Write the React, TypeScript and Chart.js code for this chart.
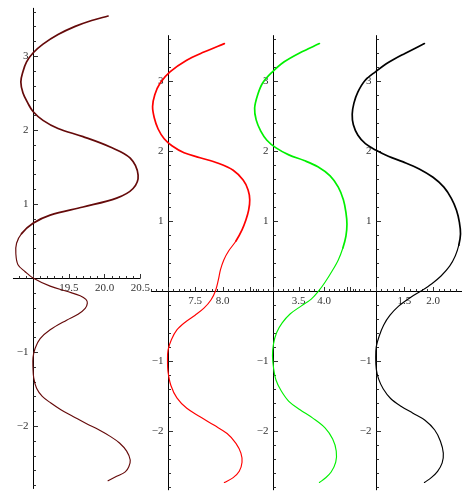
import React, { useEffect, useRef } from "react";
import { Chart, registerables } from "chart.js";

Chart.register(...registerables);

const W = 462;
const H = 493;

// ---- Panel 1 (dark red) : x as a function of y ----
const p1Y = [3.54, 3.48, 3.4, 3.29, 3.16, 3.04, 2.92, 2.79, 2.65, 2.5, 2.36, 2.25, 2.13, 2.02, 1.91, 1.77, 1.62, 1.39, 1.21, 1.08, 0.96, 0.85, 0.74, 0.6, 0.47, 0.33, 0.18, 0.085, 0.0, -0.11, -0.18, -0.24, -0.29, -0.34, -0.41, -0.49, -0.57, -0.7, -0.82, -0.95, -1.08, -1.22, -1.35, -1.49, -1.6, -1.69, -1.78, -1.87, -1.97, -2.05, -2.14, -2.23, -2.34, -2.46, -2.55, -2.62, -2.68, -2.74];
const p1X = [20.05, 19.82, 19.59, 19.35, 19.14, 19.0, 18.91, 18.86, 18.83, 18.86, 18.93, 19.0, 19.14, 19.35, 19.7, 20.08, 20.36, 20.47, 20.4, 20.17, 19.7, 19.24, 19.0, 18.84, 18.77, 18.76, 18.79, 18.89, 19.0, 19.24, 19.47, 19.66, 19.74, 19.76, 19.73, 19.63, 19.47, 19.24, 19.1, 19.03, 19.0, 19.0, 19.01, 19.05, 19.13, 19.25, 19.39, 19.56, 19.75, 19.92, 20.08, 20.21, 20.31, 20.36, 20.34, 20.29, 20.17, 20.05];

// ---- Panel 2 (red) ----
const p2Y = [3.53, 3.41, 3.29, 3.13, 2.97, 2.8, 2.63, 2.47, 2.31, 2.17, 2.07, 1.97, 1.9, 1.82, 1.72, 1.58, 1.44, 1.3, 1.15, 1.01, 0.87, 0.71, 0.57, 0.44, 0.3, 0.15, 0.0, -0.13, -0.25, -0.35, -0.45, -0.56, -0.7, -0.85, -0.99, -1.16, -1.35, -1.53, -1.68, -1.8, -1.92, -2.04, -2.18, -2.32, -2.45, -2.58, -2.67, -2.74];
const p2X = [8.03, 7.66, 7.34, 7.05, 6.87, 6.77, 6.73, 6.76, 6.83, 6.94, 7.08, 7.3, 7.59, 7.92, 8.19, 8.37, 8.46, 8.49, 8.47, 8.42, 8.35, 8.24, 8.11, 8.02, 7.96, 7.92, 7.87, 7.79, 7.66, 7.5, 7.32, 7.17, 7.07, 7.01, 7.0, 7.01, 7.06, 7.17, 7.35, 7.59, 7.84, 8.08, 8.24, 8.33, 8.35, 8.3, 8.19, 8.03];

// ---- Panel 3 (green) ----
const p3Y = [3.53, 3.4, 3.27, 3.12, 2.97, 2.8, 2.61, 2.44, 2.28, 2.15, 2.04, 1.94, 1.86, 1.77, 1.64, 1.48, 1.3, 1.12, 0.95, 0.78, 0.61, 0.44, 0.27, 0.12, 0.0, -0.12, -0.22, -0.33, -0.46, -0.6, -0.76, -0.93, -1.1, -1.28, -1.43, -1.58, -1.7, -1.82, -1.96, -2.12, -2.29, -2.45, -2.59, -2.68, -2.74];
const p3X = [3.91, 3.53, 3.22, 2.98, 2.8, 2.7, 2.64, 2.67, 2.76, 2.88, 3.06, 3.31, 3.61, 3.88, 4.12, 4.28, 4.38, 4.43, 4.45, 4.43, 4.37, 4.28, 4.15, 4.02, 3.9, 3.75, 3.55, 3.34, 3.18, 3.07, 3.01, 2.99, 3.01, 3.06, 3.16, 3.31, 3.53, 3.78, 4.02, 4.17, 4.24, 4.23, 4.14, 4.02, 3.91];

// ---- Panel 4 (black) ----
const p4Y = [3.53, 3.39, 3.26, 3.13, 3.0, 2.84, 2.68, 2.52, 2.37, 2.22, 2.1, 2.01, 1.92, 1.84, 1.74, 1.62, 1.48, 1.32, 1.15, 0.98, 0.81, 0.65, 0.5, 0.35, 0.21, 0.1, 0.0, -0.1, -0.22, -0.35, -0.49, -0.65, -0.8, -0.96, -1.12, -1.26, -1.4, -1.54, -1.65, -1.75, -1.85, -1.99, -2.15, -2.32, -2.46, -2.58, -2.67, -2.74];
const p4X = [1.85, 1.51, 1.22, 1.0, 0.81, 0.69, 0.62, 0.59, 0.61, 0.69, 0.82, 1.0, 1.22, 1.48, 1.76, 2.0, 2.19, 2.32, 2.41, 2.46, 2.48, 2.45, 2.39, 2.29, 2.14, 1.98, 1.8, 1.6, 1.4, 1.25, 1.14, 1.06, 1.01, 1.0, 1.01, 1.05, 1.13, 1.26, 1.44, 1.65, 1.86, 2.03, 2.13, 2.18, 2.16, 2.08, 1.97, 1.85];

// ---- Tick labels ----
const p1XTickValues = [19.5, 20.0, 20.5];
const p1XTickLabels = ["19.5", "20.0", "20.5"];
const p2XTickValues = [7.5, 8.0];
const p2XTickLabels = ["7.5", "8.0"];
const p3XTickValues = [3.5, 4.0];
const p3XTickLabels = ["3.5", "4.0"];
const p4XTickValues = [1.5, 2.0];
const p4XTickLabels = ["1.5", "2.0"];
const yTickValues = [-2, -1, 1, 2, 3];
const yTickLabels = ["\u22122", "\u22121", "1", "2", "3"];

const colors = ["#650a0a", "#ff0000", "#00f000", "#000000"];

// panel geometry (pixel placement of each panel's origin and scale)
const panels = [
  { xs: p1X, ys: p1Y, tv: p1XTickValues, tl: p1XTickLabels, xOrigin: 19, xPx: 33, kx: 71.5, yPx: 278, ky: 74, axMin: 18.72, axMax: 20.5, ayMin: -2.85, ayMax: 3.65 },
  { xs: p2X, ys: p2Y, tv: p2XTickValues, tl: p2XTickLabels, xOrigin: 7, xPx: 167.5, kx: 55.2, yPx: 290.7, ky: 70, axMin: 6.7, axMax: 8.62, ayMin: -2.85, ayMax: 3.65 },
  { xs: p3X, ys: p3Y, tv: p3XTickValues, tl: p3XTickLabels, xOrigin: 3, xPx: 273, kx: 51, yPx: 290.7, ky: 70, axMin: 2.55, axMax: 4.6, ayMin: -2.85, ayMax: 3.65 },
  { xs: p4X, ys: p4Y, tv: p4XTickValues, tl: p4XTickLabels, xOrigin: 1, xPx: 375.7, kx: 57.3, yPx: 290.7, ky: 70, axMin: 0.45, axMax: 2.6, ayMin: -2.85, ayMax: 3.65 },
];

const axesPlugin = {
  id: "mmaAxes",
  beforeDatasetsDraw(chart: any) {
    const ctx = chart.ctx;
    ctx.save();
    panels.forEach((p, i) => {
      const sx = chart.scales["x" + (i + 1)];
      const sy = chart.scales["y" + (i + 1)];
      const y0 = Math.round(sy.getPixelForValue(0)) + 0.5;
      const x0 = Math.round(sx.getPixelForValue(p.xOrigin)) + 0.5;
      ctx.strokeStyle = "#000";
      ctx.lineWidth = 1;
      ctx.beginPath();
      ctx.moveTo(sx.getPixelForValue(p.axMin), y0);
      ctx.lineTo(sx.getPixelForValue(p.axMax), y0);
      ctx.stroke();
      ctx.beginPath();
      ctx.moveTo(x0, sy.getPixelForValue(p.ayMax));
      ctx.lineTo(x0, sy.getPixelForValue(p.ayMin));
      ctx.stroke();
      ctx.strokeStyle = "#333";
      ctx.beginPath();
      for (let k = Math.ceil(p.axMin * 10 - 1e-6); k <= Math.floor(p.axMax * 10 + 1e-6); k++) {
        const px = Math.round(sx.getPixelForValue(k / 10)) + 0.5;
        const len = k % 5 === 0 ? 4.5 : 2.5;
        ctx.moveTo(px, y0);
        ctx.lineTo(px, y0 - len);
      }
      for (let k = Math.ceil(p.ayMin * 5 - 1e-6); k <= Math.floor(p.ayMax * 5 + 1e-6); k++) {
        if (k === 0) continue;
        const py = Math.round(sy.getPixelForValue(k / 5)) + 0.5;
        const len = k % 5 === 0 ? 4.5 : 2.5;
        ctx.moveTo(x0, py);
        ctx.lineTo(x0 + len, py);
      }
      ctx.stroke();
      ctx.fillStyle = "#333";
      ctx.font = '11px "Liberation Serif", "DejaVu Serif", serif';
      ctx.textAlign = "center";
      ctx.textBaseline = "top";
      p.tv.forEach((v, j) => {
        ctx.fillText(p.tl[j], sx.getPixelForValue(v), y0 + 4);
      });
      ctx.textAlign = "right";
      ctx.textBaseline = "middle";
      yTickValues.forEach((v, j) => {
        ctx.fillText(yTickLabels[j], x0 - 5, sy.getPixelForValue(v));
      });
    });
    ctx.restore();
  },
};

export default function App() {
  const ref = useRef<HTMLCanvasElement | null>(null);
  useEffect(() => {
    if (!ref.current) return;
    const scales: any = {};
    panels.forEach((p, i) => {
      scales["x" + (i + 1)] = {
        type: "linear",
        axis: "x",
        display: false,
        bounds: "data",
        min: p.xOrigin - p.xPx / p.kx,
        max: p.xOrigin + (W - p.xPx) / p.kx,
      };
      scales["y" + (i + 1)] = {
        type: "linear",
        axis: "y",
        display: false,
        bounds: "data",
        min: -(H - p.yPx) / p.ky,
        max: p.yPx / p.ky,
      };
    });
    const datasets = panels.map((p, i) => ({
      data: p.ys.map((y, j) => ({ x: p.xs[j], y })),
      xAxisID: "x" + (i + 1),
      yAxisID: "y" + (i + 1),
      showLine: true,
      borderColor: colors[i],
      borderWidth: 1.5,
      borderJoinStyle: "round",
      borderCapStyle: "round",
      pointRadius: 0,
      tension: 0.35,
      fill: false,
      clip: false as any,
      segment: {
        borderWidth: (c: any) => ((c.p0.parsed.y + c.p1.parsed.y) / 2 > 0.65 ? 1.7 : 1.15),
      },
    }));
    const chart = new Chart(ref.current, {
      type: "scatter",
      data: { datasets },
      options: {
        animation: false,
        responsive: false,
        events: [],
        layout: { padding: 0 },
        scales,
        plugins: { legend: { display: false }, tooltip: { enabled: false }, title: { display: false } },
      },
      plugins: [axesPlugin],
    } as any);
    return () => chart.destroy();
  }, []);
  return (
    <div style={{ position: "absolute", left: 0, top: 0, width: W, height: H, background: "#fff" }}>
      <canvas ref={ref} width={W} height={H} style={{ width: W, height: H, display: "block" }} />
    </div>
  );
}
